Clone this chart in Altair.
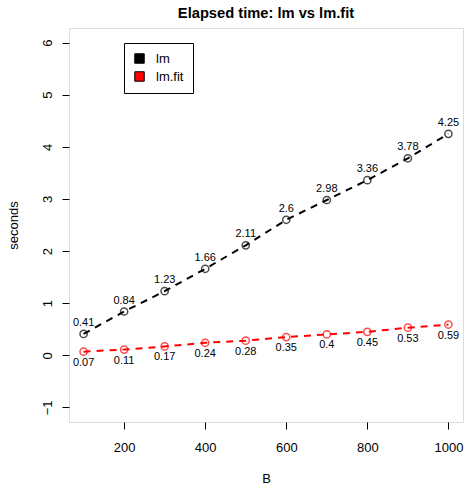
import altair as alt
import pandas as pd

B = [100, 200, 300, 400, 500, 600, 700, 800, 900, 1000]
lm_vals = [0.41, 0.84, 1.23, 1.66, 2.11, 2.6, 2.98, 3.36, 3.78, 4.25]
lmfit_vals = [0.07, 0.11, 0.17, 0.24, 0.28, 0.35, 0.4, 0.45, 0.53, 0.59]
series_names = ["lm", "lm.fit"]
series_colors = ["#000000", "#FF0000"]
x_ticks = [200, 400, 600, 800, 1000]
y_ticks = [-1, 0, 1, 2, 3, 4, 5, 6]

rows = []
for name, vals in zip(series_names, [lm_vals, lmfit_vals]):
    for b, v in zip(B, vals):
        rows.append({"B": b, "series": name, "value": v, "label": f"{v:g}"})
df = pd.DataFrame(rows)

FONT = "Liberation Sans"

x = alt.X("B:Q", scale=alt.Scale(domain=[64, 1036], nice=False, zero=False),
          axis=alt.Axis(values=x_ticks, title="B", grid=False, domain=False, format="d",
                        tickSize=7, labelPadding=18, labelBaseline="middle",
                        labelFontSize=13, labelFont=FONT, labelColor="black",
                        titleFont=FONT, titleFontSize=13, titleFontWeight="normal",
                        titleColor="black", titleBaseline="middle", titleY=56,
                        tickColor="black", labelFlush=False))
y = alt.Y("value:Q", scale=alt.Scale(domain=[-1.28, 6.28], nice=False, zero=False),
          axis=alt.Axis(values=y_ticks, title="seconds", grid=False, domain=False,
                        tickSize=7, labelPadding=15, labelAngle=270,
                        labelAlign="center", labelBaseline="middle",
                        labelFontSize=13, labelFont=FONT, labelColor="black",
                        titleFont=FONT, titleFontSize=13, titleFontWeight="normal",
                        titleColor="black", titleBaseline="middle", titleX=-56,
                        tickColor="black", labelFlush=False))

stroke = alt.Stroke("series:N", scale=alt.Scale(domain=series_names, range=series_colors),
                    legend=None)

base = alt.Chart(df)

lines = base.mark_line(strokeDash=[7, 6], strokeWidth=2).encode(x=x, y=y, stroke=stroke, detail="series:N")
points = base.mark_point(shape="circle", filled=False, size=52, strokeWidth=1.5).encode(
    x=x, y=y, stroke=stroke)
text_above = base.transform_filter(alt.datum.series == "lm").mark_text(
    dy=-11, fontSize=11, font=FONT, color="black").encode(x=x, y=y, text="label:N")
text_below = base.transform_filter(alt.datum.series == "lm.fit").mark_text(
    dy=11, fontSize=11, font=FONT, color="black").encode(x=x, y=y, text="label:N")

legend_layer = base.transform_calculate(key="datum.series").mark_square(
    filled=True, stroke="black", opacity=0).encode(
    x=x, y=y,
    fill=alt.Fill("key:N", scale=alt.Scale(domain=series_names, range=series_colors),
                  legend=alt.Legend(title=None, orient="none", legendX=55, legendY=15,
                                    padding=9, strokeColor="black", fillColor="white",
                                    symbolType="square", symbolSize=90, symbolOpacity=1,
                                    symbolStrokeColor="black", symbolStrokeWidth=1,
                                    labelFont=FONT, labelFontSize=13, labelColor="black",
                                    labelOffset=10, rowPadding=3, cornerRadius=0)))

chart = alt.layer(lines, points, text_above, text_below, legend_layer).properties(
    width=394, height=394,
    title=alt.TitleParams("Elapsed time: lm vs lm.fit", font=FONT, fontSize=14.7,
                          fontWeight="bold", color="black", anchor="middle", offset=7),
    autosize=alt.AutoSizeParams(type="none"),
    padding={"left": 69, "top": 28, "right": 1, "bottom": 63},
).resolve_legend(fill="independent", stroke="independent").configure_view(
    stroke="black", strokeWidth=1).configure(background="white")

chart.save("out.html", embed_options={"renderer": "svg", "actions": False})
